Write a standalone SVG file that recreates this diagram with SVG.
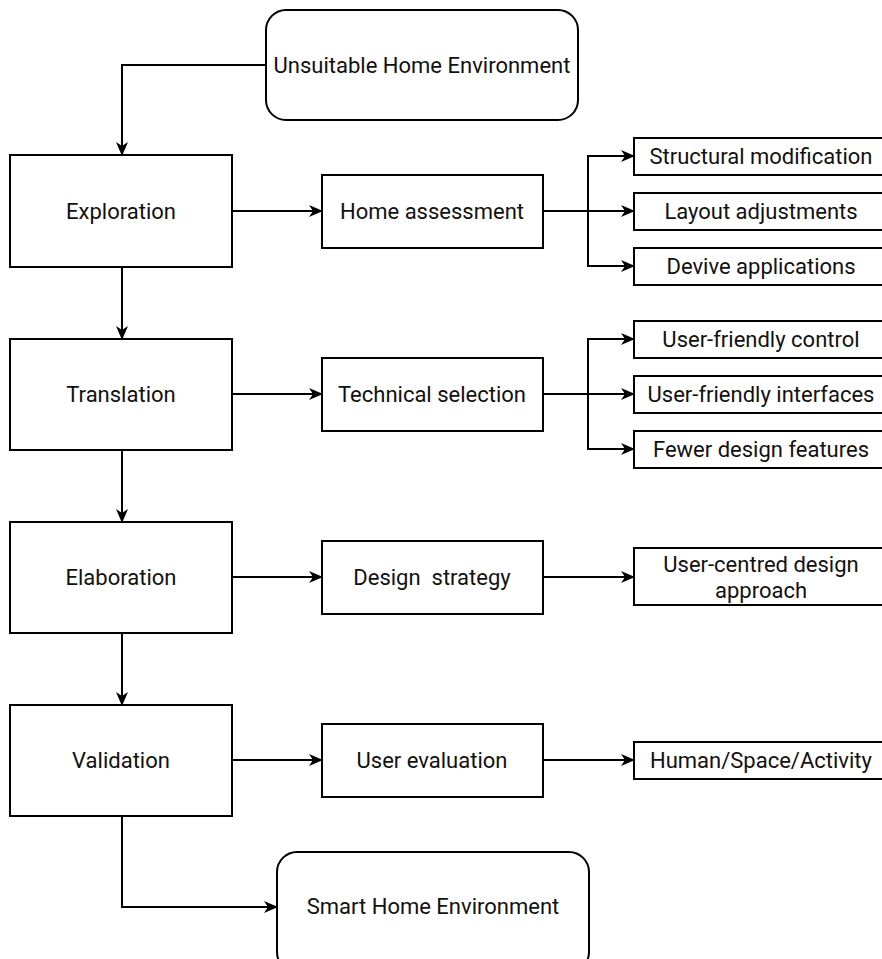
<svg xmlns="http://www.w3.org/2000/svg" width="882" height="959" viewBox="0 0 882 959">
<style>
.box{fill:#fff;stroke:#000;stroke-width:2}
.t{font-family:Roboto,"Liberation Sans",sans-serif;font-size:22px;fill:#111;text-anchor:middle;dominant-baseline:central}
.c{fill:none;stroke:#000;stroke-width:2}
</style>
<defs>
<marker id="a" viewBox="0 0 14 14" refX="13" refY="7" markerWidth="14" markerHeight="14" markerUnits="userSpaceOnUse" orient="auto">
<path d="M0,1 L14,7 L0,13 L4,7 Z" fill="#000"/>
</marker>
</defs>
<rect width="882" height="959" fill="#fff"/>
<g id="connectors">
<path class="c" d="M266,65 H122 V155" marker-end="url(#a)"/>
<path class="c" d="M122,267 V339" marker-end="url(#a)"/>
<path class="c" d="M122,450 V522" marker-end="url(#a)"/>
<path class="c" d="M122,633 V705" marker-end="url(#a)"/>
<path class="c" d="M122,816 V907 H277" marker-end="url(#a)"/>
<path class="c" d="M232,211 H322" marker-end="url(#a)"/>
<path class="c" d="M232,394 H322" marker-end="url(#a)"/>
<path class="c" d="M232,577 H322" marker-end="url(#a)"/>
<path class="c" d="M232,760 H322" marker-end="url(#a)"/>
<path class="c" d="M543,211 H634" marker-end="url(#a)"/>
<path class="c" d="M588,211 V156 H634" marker-end="url(#a)"/>
<path class="c" d="M588,211 V266 H634" marker-end="url(#a)"/>
<path class="c" d="M543,394 H634" marker-end="url(#a)"/>
<path class="c" d="M588,394 V339 H634" marker-end="url(#a)"/>
<path class="c" d="M588,394 V449 H634" marker-end="url(#a)"/>
<path class="c" d="M543,577 H634" marker-end="url(#a)"/>
<path class="c" d="M543,760 H634" marker-end="url(#a)"/>
</g>
<g id="n-unsuitable"><rect class="box" x="266" y="10" width="312" height="110" rx="20"/><text class="t" x="422" y="65">Unsuitable Home Environment</text></g>
<g id="n-exploration"><rect class="box" x="10" y="155" width="222" height="112"/><text class="t" x="121" y="211">Exploration</text></g>
<g id="n-translation"><rect class="box" x="10" y="339" width="222" height="111"/><text class="t" x="121" y="394">Translation</text></g>
<g id="n-elaboration"><rect class="box" x="10" y="522" width="222" height="111"/><text class="t" x="121" y="577">Elaboration</text></g>
<g id="n-validation"><rect class="box" x="10" y="705" width="222" height="111"/><text class="t" x="121" y="760">Validation</text></g>
<g id="n-home"><rect class="box" x="322" y="175" width="221" height="73"/><text class="t" x="432" y="211">Home assessment</text></g>
<g id="n-tech"><rect class="box" x="322" y="358" width="221" height="73"/><text class="t" x="432" y="394">Technical selection</text></g>
<g id="n-design"><rect class="box" x="322" y="541" width="221" height="73"/><text class="t" x="432" y="577" xml:space="preserve">Design  strategy</text></g>
<g id="n-usereval"><rect class="box" x="322" y="724" width="221" height="73"/><text class="t" x="432" y="760">User evaluation</text></g>
<g id="n-struct"><rect class="box" x="634" y="138" width="250" height="37"/><text class="t" x="761" y="156">Structural modification</text></g>
<g id="n-layout"><rect class="box" x="634" y="193" width="250" height="37"/><text class="t" x="761" y="211">Layout adjustments</text></g>
<g id="n-devive"><rect class="box" x="634" y="248" width="250" height="37"/><text class="t" x="761" y="266">Devive applications</text></g>
<g id="n-ufcontrol"><rect class="box" x="634" y="321" width="250" height="37"/><text class="t" x="761" y="339">User-friendly control</text></g>
<g id="n-ufinterfaces"><rect class="box" x="634" y="376" width="250" height="37"/><text class="t" x="761" y="394">User-friendly interfaces</text></g>
<g id="n-fewer"><rect class="box" x="634" y="431" width="250" height="37"/><text class="t" x="761" y="449">Fewer design features</text></g>
<g id="n-ucd"><rect class="box" x="634" y="548" width="250" height="57"/><text class="t" x="761" y="564">User-centred design</text><text class="t" x="761" y="590">approach</text></g>
<g id="n-hsa"><rect class="box" x="634" y="742" width="250" height="37"/><text class="t" x="761" y="760">Human/Space/Activity</text></g>
<g id="n-smart"><rect class="box" x="277" y="852" width="312" height="120" rx="20"/><text class="t" x="433" y="906">Smart Home Environment</text></g>
</svg>
